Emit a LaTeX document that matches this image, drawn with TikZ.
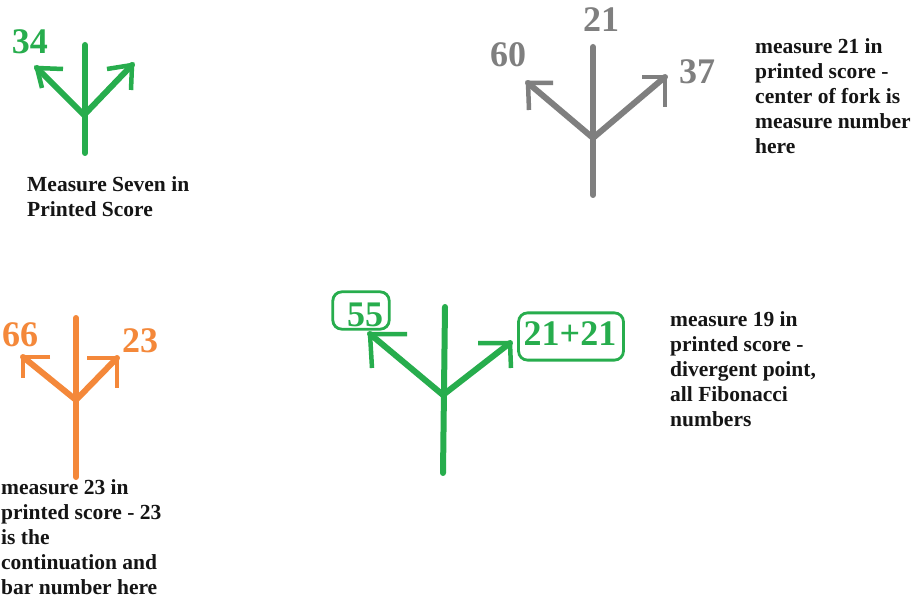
\documentclass[tikz,border=0pt]{standalone}
\usepackage{fontspec}
\setmainfont{Liberation Serif}
\usetikzlibrary{calc}
\definecolor{pgreen}{HTML}{27AD4D}
\definecolor{porange}{HTML}{F4883A}
\definecolor{pgray}{HTML}{7F7F7F}
\definecolor{ink}{HTML}{151515}
\tikzset{
  x=1pt, y=-1pt,
  stem/.style={line width=6pt, line cap=round},
  barb/.style={line width=4.5pt, line cap=butt, line join=miter},
  num/.style={font=\fontsize{36}{36}\selectfont\bfseries, inner sep=0pt},
  note/.style={font=\fontsize{21.5}{25}\selectfont\bfseries, align=left, anchor=north west, inner sep=0pt, text=ink},
  ring/.style={draw=pgreen, line width=2.8pt, rounded corners=9pt},
}
\begin{document}
\begin{tikzpicture}
\useasboundingbox (0,0) rectangle (913,604);
\fill[white] (0,0) rectangle (913,604);

% ---- fork 1 (green, top left)
\coordinate (aT) at (85,45);
\coordinate (aB) at (85,153);
\coordinate (aC) at (84,115);
\coordinate (aL) at (37,68);
\coordinate (aR) at (132,65);
\draw[stem,pgreen] (aT) -- (aB);
\draw[stem,pgreen] (aL) -- (aC) -- (aR);
\draw[barb,pgreen] (aL) ++(26,1) -- (aL) -- ++(5,20);
\draw[barb,pgreen] (aR) ++(-25,4) -- (aR) -- ++(-1,25);
\node[num,text=pgreen] (n34) at (30,42) {34};
\node[note] (t1) at (27,176) {Measure Seven in\\Printed Score};

% ---- fork 2 (gray, top middle)
\coordinate (bT) at (593,47);
\coordinate (bB) at (593,195);
\coordinate (bC) at (593,138);
\coordinate (bL) at (528,83);
\coordinate (bR) at (665,77);
\draw[stem,pgray] (bT) -- (bB);
\draw[stem,pgray] (bL) -- (bC) -- (bR);
\draw[barb,pgray] (bL) ++(25,0) -- (bL) -- ++(1,27);
\draw[barb,pgray] (bR) ++(-23,0) -- (bR) -- ++(0,30);
\node[num,text=pgray] (n21) at (601,20) {21};
\node[num,text=pgray] (n60) at (508,55) {60};
\node[num,text=pgray] (n37) at (697,72) {37};
\node[note] (t2) at (755,38) {measure 21 in\\printed score -\\center of fork is\\measure number\\here};

% ---- fork 3 (orange, bottom left)
\coordinate (cT) at (76,318);
\coordinate (cB) at (76,477);
\coordinate (cC) at (76,400);
\coordinate (cL) at (23,357);
\coordinate (cR) at (117,358);
\draw[stem,porange] (cT) -- (cB);
\draw[stem,porange] (cL) -- (cC) -- (cR);
\draw[barb,porange] (cL) ++(27,0) -- (cL) -- ++(0,21);
\draw[barb,porange] (cR) ++(-30,0) -- (cR) -- ++(0,30);
\node[num,text=porange] (n66) at (20,335) {66};
\node[num,text=porange] (n23) at (140,341) {23};
\node[note] (t3) at (1,479) {measure 23 in\\printed score - 23\\is the\\continuation and\\bar number here};

% ---- fork 4 (green, bottom middle)
\coordinate (dT) at (445,307);
\coordinate (dB) at (443,473);
\coordinate (dC) at (443,395);
\coordinate (dL) at (370,334);
\coordinate (dR) at (510,343);
\draw[stem,pgreen] (dT) -- (dB);
\draw[stem,pgreen] (dL) -- (dC) -- (dR);
\draw[barb,pgreen] (dL) ++(37,0) -- (dL) -- ++(2,34);
\draw[barb,pgreen] (dR) ++(-32,0) -- (dR) -- ++(1,25);
\node[num,text=pgreen] (n55) at (365,315) {55};
\draw[ring] ($(n55.north west)+(-14,-11)$) rectangle ($(n55.south east)+(6,2)$);
\node[num,text=pgreen] (n42) at (570,334) {21+21};
\draw[ring] ($(n42.north west)+(-5,-9)$) rectangle ($(n42.south east)+(7,14)$);
\node[note] (t4) at (670,311) {measure 19 in\\printed score -\\divergent point,\\all Fibonacci\\numbers};
\end{tikzpicture}
\end{document}
